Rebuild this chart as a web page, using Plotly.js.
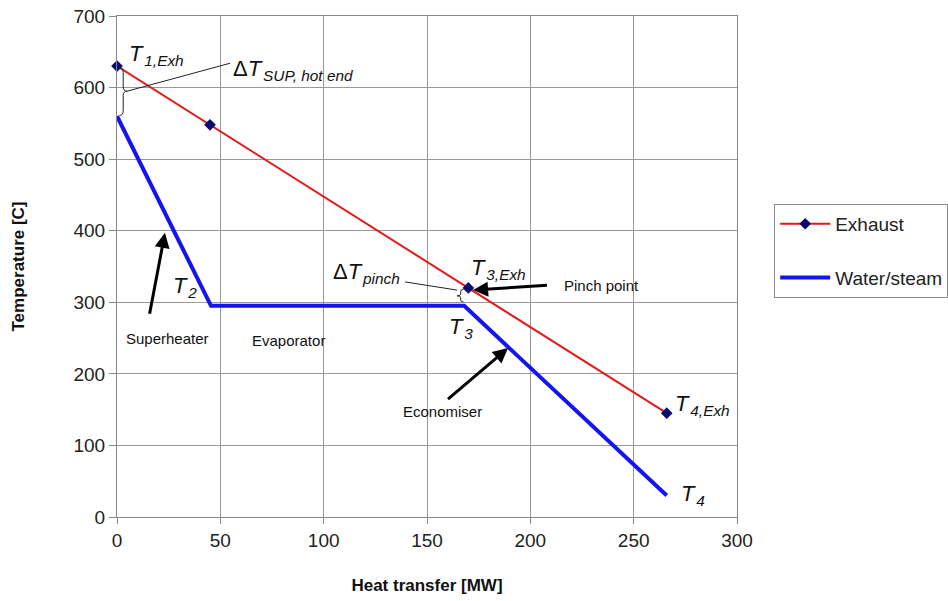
<!DOCTYPE html>
<html>
<head>
<meta charset="utf-8">
<script src="https://cdn.plot.ly/plotly-3.0.1.min.js"></script>
<style>html,body{margin:0;padding:0;background:#fff;}#chart{width:948px;height:601px;}</style>
</head>
<body>
<div id="chart"></div>
<script>
// Data
const exhaustX = [0, 45, 170, 266];
const exhaustY = [630, 548, 320, 145];
const waterX = [0, 45.5, 168, 266];
const waterY = [560, 295, 295, 30];
const xTicks = [0, 50, 100, 150, 200, 250, 300];
const yTicks = [0, 100, 200, 300, 400, 500, 600, 700];

const FONT = "Liberation Sans, Arial, Helvetica, sans-serif";

const traces = [
  {
    x: exhaustX, y: exhaustY, name: 'Exhaust', type: 'scatter', mode: 'lines+markers',
    line: {color: '#e31a1c', width: 2},
    marker: {symbol: 'diamond', size: 9, color: '#0a0a6e'},
    legendgroup: 'a', cliponaxis: false
  },
  {
    x: waterX, y: waterY, name: 'Water/steam', type: 'scatter', mode: 'lines',
    line: {color: '#1414f0', width: 4},
    legendgroup: 'b', cliponaxis: false
  }
];

const T = 22; // font size for T labels
const SP = '&#8202;';
function lbl(text, x, y, xanchor, size, extra) {
  return Object.assign({
    x: x, y: y, xref: 'x', yref: 'y', text: text, showarrow: false,
    xanchor: xanchor || 'left', yanchor: 'middle',
    font: {family: FONT, size: size || T, color: '#111'}
  }, extra || {});
}
function arrow(hx, hy, tx, ty) {
  return {
    x: hx, y: hy, ax: tx, ay: ty, xref: 'x', yref: 'y', axref: 'x', ayref: 'y',
    text: ' ', showarrow: true, arrowhead: 2, arrowsize: 1, arrowwidth: 3, arrowcolor: '#000'
  };
}

const annotations = [
  lbl('<i>T</i>' + SP + '<sub><i>1,Exh</i></sub>', 5.0, 646, 'left'),
  lbl('Δ<i>T</i>' + SP + '<sub><i>SUP, hot end</i></sub>', 55.3, 625, 'left'),
  lbl('<i>T</i>' + SP + '<sub><i>1</i></sub>', -3.2, 561, 'right'),
  lbl('<i>T</i>' + SP + '<sub><i>2</i></sub>', 26.0, 322, 'left'),
  lbl('Superheater', 24.2, 250, 'center', 15),
  lbl('Evaporator', 83.2, 247, 'center', 15),
  lbl('Δ<i>T</i>' + SP + '<sub><i>pinch</i></sub>', 103.5, 341, 'left'),
  lbl('<i>T</i>' + SP + '<sub><i>3,Exh</i></sub>', 170.5, 346, 'left'),
  lbl('Pinch point', 234.4, 324, 'center', 15),
  lbl('<i>T</i>' + SP + '<sub><i>3</i></sub>', 159.5, 264, 'left'),
  lbl('Economiser', 157.5, 147, 'center', 15),
  lbl('<i>T</i>' + SP + '<sub><i>4,Exh</i></sub>', 269, 157, 'left'),
  lbl('<i>T</i>' + SP + '<sub><i>4</i></sub>', 272, 31, 'left'),
  arrow(23.2, 397, 15.0, 272),
  arrow(172.3, 317, 209.5, 324),
  arrow(189.2, 236, 158.7, 161)
];

const shapes = [
  // brace for ΔT SUP
  {type: 'path', xref: 'x', yref: 'y',
   path: 'M 1.2,628 Q 3,628 3,621 L 3,601 Q 3,595 5,595 Q 3,595 3,589 L 3,568 Q 3,561 1.2,561',
   line: {color: '#222', width: 1}},
  // leader line ΔT SUP
  {type: 'line', xref: 'x', yref: 'y', x0: 5, y0: 595, x1: 54.7, y1: 634,
   line: {color: '#222', width: 1}},
  // leader line ΔT pinch
  {type: 'line', xref: 'x', yref: 'y', x0: 139.4, y0: 328.5, x1: 164.6, y1: 317,
   line: {color: '#222', width: 1}},
  // small pinch brace
  {type: 'path', xref: 'x', yref: 'y',
   path: 'M 167.6,318 Q 166.3,318 166.3,315 L 166.3,311.5 Q 166.3,309 164.6,309 Q 166.3,309 166.3,306.5 L 166.3,303 Q 166.3,300.5 167.6,300.5',
   line: {color: '#222', width: 1}}
];

const layout = {
  width: 948, height: 601,
  margin: {l: 117, r: 211, t: 16, b: 84, autoexpand: false},
  paper_bgcolor: '#fff', plot_bgcolor: '#fff',
  font: {family: FONT, color: '#222'},
  showlegend: true,
  legend: {
    x: 1.06, y: 0.625, xanchor: 'left', yanchor: 'top',
    bordercolor: '#8a8a8a', borderwidth: 1, bgcolor: '#fff',
    font: {family: FONT, size: 19, color: '#222'},
    traceorder: 'grouped', tracegroupgap: 26, itemwidth: 50
  },
  xaxis: {
    range: [0, 300], tickvals: xTicks, ticktext: xTicks.map(String),
    showgrid: true, gridcolor: '#999', gridwidth: 1,
    showline: true, linecolor: '#888', linewidth: 1, mirror: true,
    ticks: 'outside', ticklen: 6, tickcolor: '#888',
    zeroline: false, tickfont: {family: FONT, size: 19, color: '#222'},
    title: {text: '<b>Heat transfer [MW]</b>', font: {family: FONT, size: 17, color: '#111'}, standoff: 29},
    automargin: false
  },
  yaxis: {
    range: [0, 700], tickvals: yTicks, ticktext: yTicks.map(String),
    showgrid: true, gridcolor: '#999', gridwidth: 1,
    showline: true, linecolor: '#888', linewidth: 1, mirror: true,
    ticks: 'outside', ticklen: 7, tickcolor: '#888',
    zeroline: false, tickfont: {family: FONT, size: 19, color: '#222'},
    title: {text: '<b>Temperature [C]</b>', font: {family: FONT, size: 17, color: '#111'}, standoff: 44},
    automargin: false
  },
  annotations: annotations,
  shapes: shapes
};

Plotly.newPlot('chart', traces, layout, {displayModeBar: false, staticPlot: true});
</script>
</body>
</html>
